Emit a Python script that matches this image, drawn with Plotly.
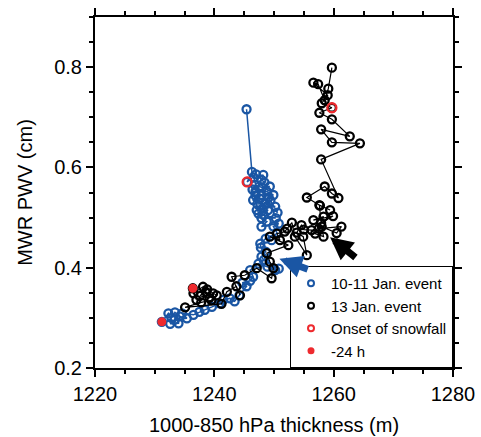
import plotly.graph_objects as go

# 10-11 Jan. event
blue_x = [1231.2, 1232.3, 1232.8, 1233.4, 1234.2, 1234.0, 1232.6, 1233.3, 1235.4, 1234.6,
          1236.5, 1237.5, 1238.4, 1239.6, 1240.9, 1241.5, 1242.6, 1243.4, 1244.2, 1245.4,
          1244.7, 1246.0, 1246.5, 1246.0, 1247.4, 1248.9, 1250.2, 1250.8, 1248.3, 1247.9,
          1248.6, 1247.8, 1247.7, 1248.6, 1249.6, 1250.5, 1249.9, 1250.8, 1247.9, 1248.8,
          1247.9, 1250.3, 1248.3, 1249.0, 1247.1, 1250.2, 1248.6, 1247.2, 1246.5, 1247.9,
          1249.9, 1248.8, 1246.9, 1249.3, 1248.0, 1246.8, 1247.9, 1248.2, 1246.6, 1247.6,
          1249.4, 1248.1, 1246.9, 1250.6, 1249.1, 1247.4, 1246.4, 1248.4, 1247.0, 1245.5,
          1246.3, 1245.4]
blue_y = [0.292, 0.309, 0.300, 0.311, 0.303, 0.289, 0.288, 0.296, 0.299, 0.309,
          0.306, 0.312, 0.316, 0.322, 0.329, 0.336, 0.339, 0.333, 0.345, 0.363,
          0.370, 0.374, 0.382, 0.395, 0.408, 0.402, 0.395, 0.398, 0.415, 0.422,
          0.432, 0.440, 0.448, 0.458, 0.455, 0.470, 0.482, 0.488, 0.482, 0.492,
          0.499, 0.499, 0.505, 0.515, 0.515, 0.522, 0.528, 0.527, 0.535, 0.545,
          0.545, 0.552, 0.552, 0.562, 0.560, 0.565, 0.575, 0.585, 0.580, 0.538,
          0.534, 0.518, 0.544, 0.510, 0.540, 0.508, 0.556, 0.570, 0.586, 0.571,
          0.591, 0.716]

# 13 Jan. event
black_x = [1236.4, 1237.0, 1236.5, 1238.1, 1238.6, 1239.2, 1237.6, 1238.8, 1239.8, 1240.4,
           1239.5, 1237.8, 1235.1, 1241.2, 1242.1, 1243.7, 1244.3, 1242.9, 1245.1, 1247.1,
           1249.6, 1249.9, 1249.3, 1248.8, 1252.4, 1249.3, 1251.0, 1250.5, 1251.8, 1252.2,
           1253.0, 1253.5, 1255.5, 1254.9, 1253.8, 1254.6, 1255.0, 1256.3, 1256.9, 1258.3,
           1258.0, 1260.5, 1261.3, 1257.5, 1258.3, 1256.6, 1259.9, 1257.9, 1257.6, 1259.4,
           1257.7, 1255.5, 1258.5, 1259.7, 1260.8, 1257.9, 1264.4, 1259.7, 1257.9, 1262.7,
           1259.7, 1257.6, 1259.7, 1258.0, 1259.0, 1256.6, 1257.4, 1258.5, 1259.1, 1259.7]
black_y = [0.359, 0.336, 0.349, 0.362, 0.352, 0.340, 0.344, 0.357, 0.349, 0.345,
           0.335, 0.331, 0.321, 0.328, 0.352, 0.363, 0.345, 0.382, 0.385, 0.399,
           0.379, 0.399, 0.412, 0.429, 0.445, 0.462, 0.455, 0.468, 0.472, 0.478,
           0.490, 0.462, 0.425, 0.462, 0.470, 0.485, 0.476, 0.475, 0.468, 0.462,
           0.482, 0.469, 0.482, 0.478, 0.502, 0.495, 0.503, 0.489, 0.525, 0.515,
           0.524, 0.540, 0.562, 0.548, 0.539, 0.616, 0.648, 0.650, 0.676, 0.662,
           0.696, 0.709, 0.719, 0.728, 0.744, 0.769, 0.766, 0.734, 0.757, 0.799]

onset_x = [1245.5, 1259.7]
onset_y = [0.571, 0.719]
minus24_x = [1231.2, 1236.4]
minus24_y = [0.292, 0.359]

legend_names = ["10-11 Jan. event", "13 Jan. event", "Onset of snowfall", "-24 h"]

BLUE = "#1a56a4"
RED = "#ee2a2e"
FONT = "Liberation Sans, Arial, Helvetica, sans-serif"

fig = go.Figure()
fig.add_trace(go.Scatter(x=blue_x, y=blue_y, mode="lines+markers", showlegend=False,
                         line=dict(color=BLUE, width=1.5),
                         marker=dict(symbol="circle-open", size=8, color=BLUE, line=dict(width=2.3))))
fig.add_trace(go.Scatter(x=black_x, y=black_y, mode="lines+markers", showlegend=False,
                         line=dict(color="black", width=1.2),
                         marker=dict(symbol="circle-open", size=8, color="black", line=dict(width=2.3))))
fig.add_trace(go.Scatter(x=onset_x, y=onset_y, mode="markers", showlegend=False,
                         marker=dict(symbol="circle-open", size=9, color=RED, line=dict(width=2.3))))
fig.add_trace(go.Scatter(x=minus24_x, y=minus24_y, mode="markers", showlegend=False,
                         marker=dict(symbol="circle", size=9, color=RED)))

# legend-only entries
leg_styles = [
    dict(symbol="circle-open", size=6, color=BLUE, line=dict(width=2)),
    dict(symbol="circle-open", size=6, color="black", line=dict(width=2)),
    dict(symbol="circle-open", size=6, color=RED, line=dict(width=2)),
    dict(symbol="circle", size=7, color=RED),
]
for name, st in zip(legend_names, leg_styles):
    fig.add_trace(go.Scatter(x=[None], y=[None], mode="markers", name=name, marker=st))

# arrows
fig.add_annotation(x=1250.9, y=0.418, ax=1255.9, ay=0.396, xref="x", yref="y", axref="x", ayref="y",
                   text="", showarrow=True, arrowhead=2, arrowsize=0.65, arrowwidth=7,
                   arrowcolor=BLUE, standoff=0)
fig.add_annotation(x=1259.4, y=0.461, ax=1263.9, ay=0.418, xref="x", yref="y", axref="x", ayref="y",
                   text="", showarrow=True, arrowhead=2, arrowsize=0.65, arrowwidth=7,
                   arrowcolor="black", standoff=0)

axis_common = dict(showline=True, linecolor="black", linewidth=2, mirror="ticks",
                   ticks="outside", ticklen=7, tickwidth=2, tickcolor="black",
                   showgrid=False, zeroline=False, automargin=False,
                   tickfont=dict(family=FONT, size=20, color="black"))

fig.update_xaxes(range=[1220, 1280], dtick=20, tick0=1220,
                 minor=dict(dtick=5, ticks="outside", ticklen=4, tickwidth=1.5, tickcolor="black"),
                 title=dict(text="1000-850 hPa thickness (m)", font=dict(family=FONT, size=20, color="black"),
                            standoff=14),
                 **axis_common)
fig.update_yaxes(range=[0.2, 0.9], dtick=0.2, tick0=0.2, tickformat=".1f",
                 minor=dict(dtick=0.05, ticks="outside", ticklen=4, tickwidth=1.5, tickcolor="black"),
                 title=dict(text="MWR PWV (cm)", font=dict(family=FONT, size=20, color="black"),
                            standoff=16),
                 **axis_common)

fig.update_layout(
    width=481, height=437,
    margin=dict(l=95, r=28, t=17, b=69),
    plot_bgcolor="white", paper_bgcolor="white",
    font=dict(family=FONT, color="black"),
    legend=dict(x=1, y=0, xanchor="right", yanchor="bottom",
                bgcolor="white", bordercolor="black", borderwidth=1,
                font=dict(family=FONT, size=15, color="black"),
                itemwidth=30, tracegroupgap=0),
)

fig.write_html("out.html", config={"displayModeBar": False},
               post_script="document.body.style.margin='0';")
